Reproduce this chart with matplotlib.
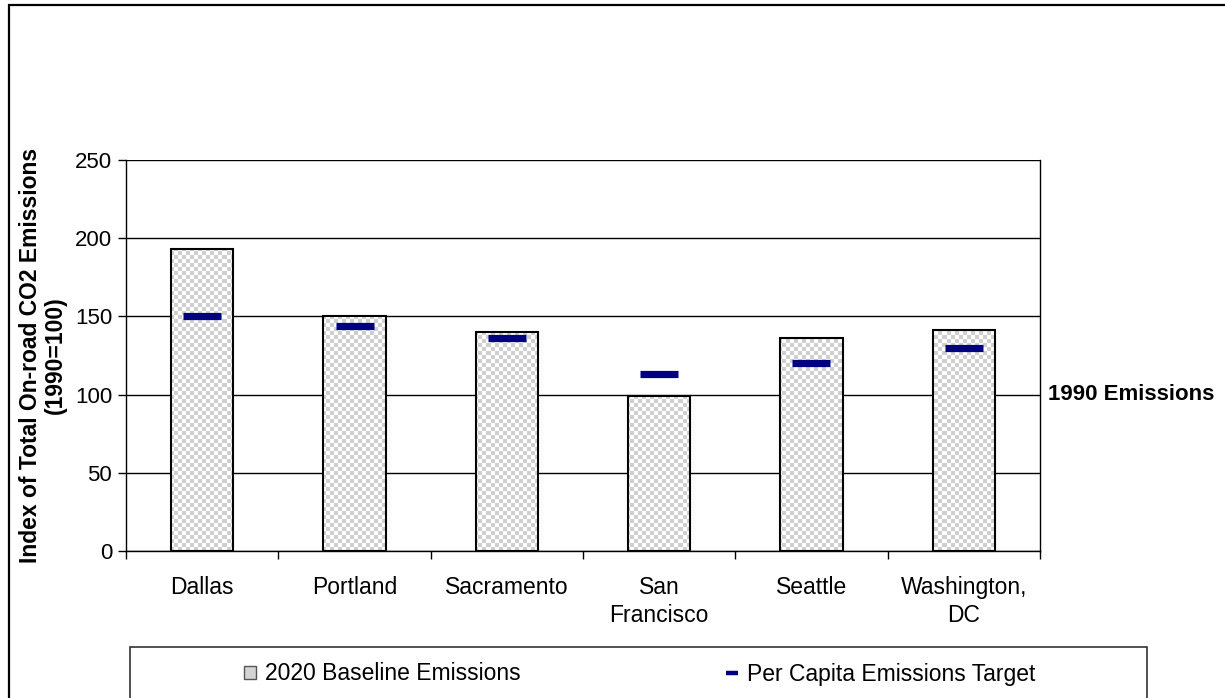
import numpy as np
import matplotlib
matplotlib.use("Agg")
import matplotlib.pyplot as plt
from matplotlib.patches import Rectangle, Patch
from matplotlib.lines import Line2D
from matplotlib.colors import ListedColormap

plt.rcParams['font.family'] = ['Liberation Sans', 'DejaVu Sans']

cities = ["Dallas", "Portland", "Sacramento", "San\nFrancisco", "Seattle", "Washington,\nDC"]
baseline_2020 = [193, 150, 140, 99, 136, 141]
per_capita_target = [150, 144, 136, 113, 120, 130]
yticks = [0, 50, 100, 150, 200, 250]

W, H = 1225, 698
fig = plt.figure(figsize=(W / 100, H / 100), dpi=100)
ax = fig.add_axes([126 / W, 1 - 551 / H, (1040 - 126) / W, (551 - 160) / H])

x = np.arange(len(cities))
bars = ax.bar(x, baseline_2020, width=0.41, facecolor='none', edgecolor='black',
              linewidth=1.5, zorder=3)

# checkerboard fill clipped to each bar
nx, ny = 914 // 4 + 1, 391 // 4 + 1
ii, jj = np.meshgrid(np.arange(nx), np.arange(ny))
checker = ((ii + jj) % 2).astype(float)
cmap = ListedColormap(['#ffffff', '#cfcfcf'])
for b in bars:
    im = ax.imshow(checker, cmap=cmap,
                   extent=(-0.5, -0.5 + len(cities) * (nx * 4) / 914, 0, 250 * (ny * 4) / 391),
                   origin='lower', aspect='auto', interpolation='nearest', zorder=2)
    im.set_clip_path(b)
ax.set_xlim(-0.5, len(cities) - 0.5)
ax.set_ylim(0, 250)

ax.plot(x, per_capita_target, linestyle='none', marker='_', markersize=27,
        markeredgewidth=5.2, color='#000080', zorder=4)

ax.set_yticks(yticks)
ax.yaxis.grid(True, color='black', linewidth=1.0, zorder=1)
ax.set_axisbelow(True)
ax.tick_params(axis='y', direction='out', length=6, width=1, labelsize=16, pad=4)
ax.set_xticks(x)
ax.set_xticklabels(cities, fontsize=16.5, linespacing=1.3)
ax.set_xticks(np.arange(-0.5, len(cities), 1), minor=True)
ax.tick_params(axis='x', which='major', length=0, pad=18)
ax.tick_params(axis='x', which='minor', direction='out', length=6, width=1)
for s in ax.spines.values():
    s.set_color('black')
    s.set_linewidth(1.0)
ax.spines['top'].set_visible(False)

ax.set_ylabel("Index of Total On-road CO2 Emissions\n(1990=100)", fontsize=16.5,
              fontweight='bold', linespacing=1.1, labelpad=6)

ax.text(1.009, 100, "1990 Emissions", transform=ax.get_yaxis_transform(),
        fontsize=16, fontweight='bold', va='center', ha='left')

# figure border
fig.add_artist(Rectangle((9 / W, -0.1), 1.2, 1.1 - 5 / H, transform=fig.transFigure,
                         fill=False, edgecolor='black', linewidth=1.6, clip_on=False))
# legend box
fig.add_artist(Rectangle((130 / W, -0.1), (1147 - 130) / W, 0.1 + (698 - 647) / H,
                         transform=fig.transFigure, fill=False, edgecolor='#333333',
                         linewidth=1.2, clip_on=False))

handles = [Patch(facecolor='#d4d4d4', edgecolor='#555555', linewidth=1.0),
           Line2D([], [], linestyle='none', marker='_', markersize=9,
                  markeredgewidth=3.2, color='#000080')]
labels = ["2020 Baseline Emissions", "Per Capita Emissions Target"]
fig.legend(handles, labels, loc='center', bbox_to_anchor=(640 / W, 1 - 674 / H),
           ncol=2, frameon=False, fontsize=16.5, handlelength=0.5, handleheight=0.5,
           handletextpad=0.4, columnspacing=9.0)

fig.savefig("out.png", dpi=100)
